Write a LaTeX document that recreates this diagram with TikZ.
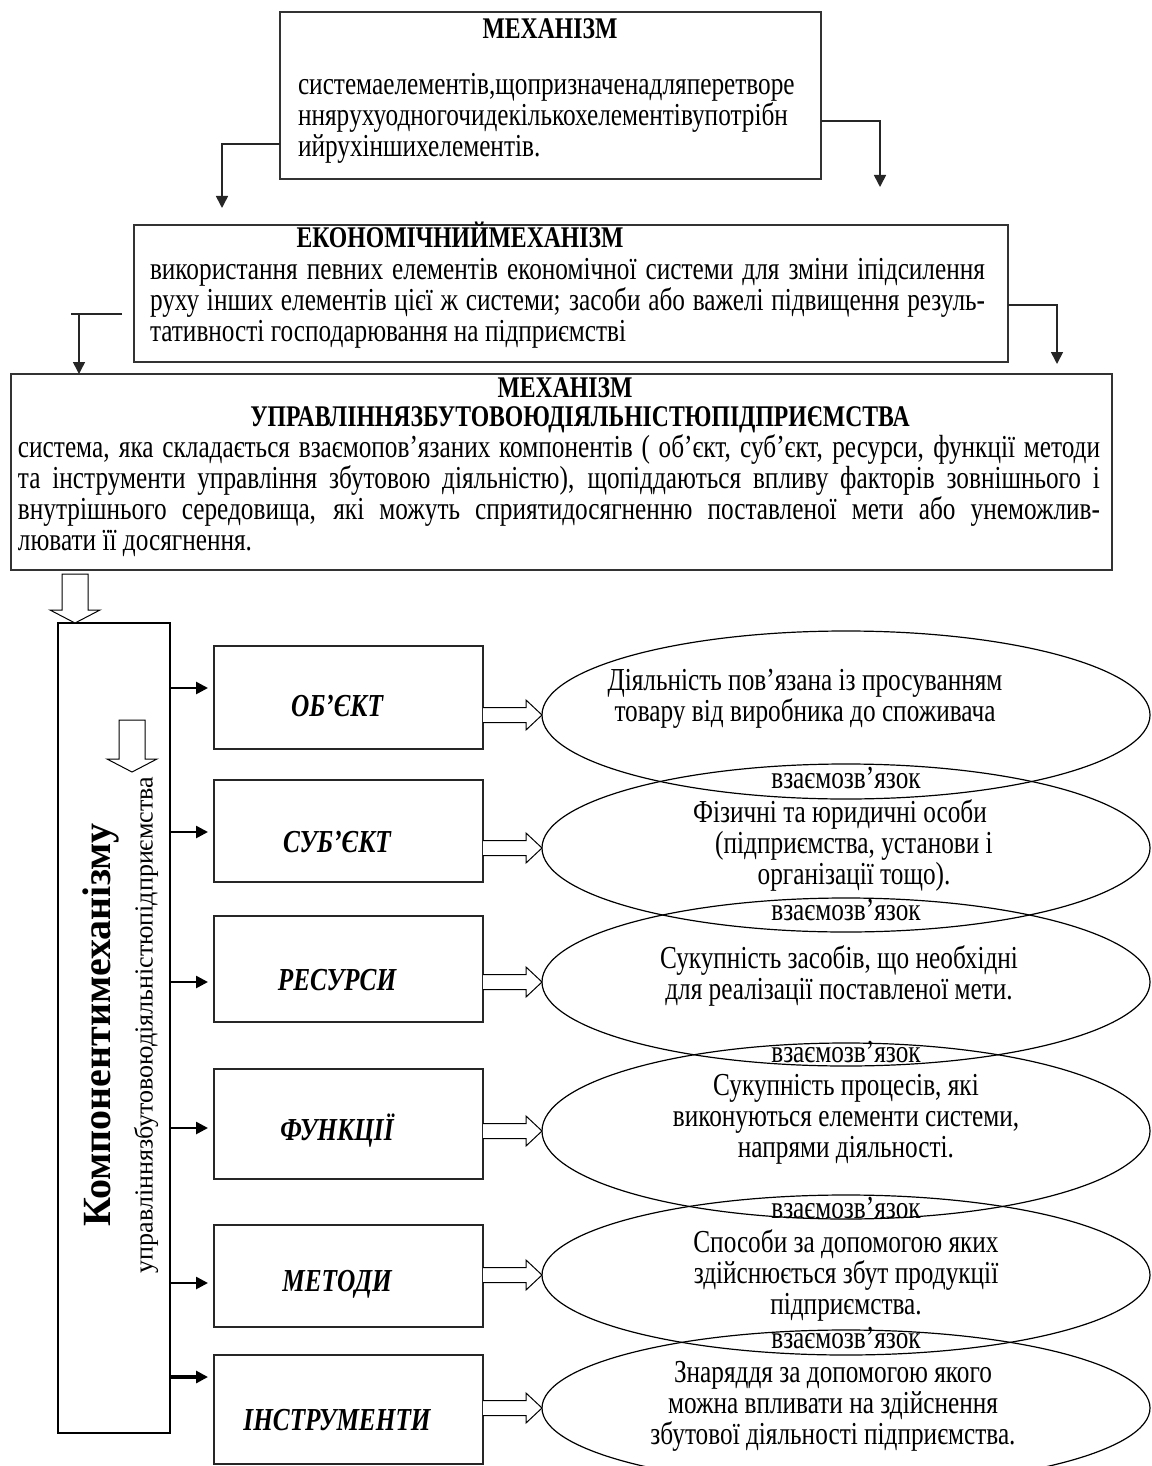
\documentclass[tikz,border=0pt]{standalone}
\usepackage{fontspec}
\setmainfont{Liberation Serif}[FakeStretch=0.79]
\newfontfamily\vertfont{Liberation Serif}
\usetikzlibrary{calc,arrows.meta,shapes.geometric}

% a line of text spread to the full width
\newcommand\fillline[2]{\makebox[#1][s]{#2}}

% hollow block arrow pointing down, from #1 to #2 (same x)
\newcommand\downblock[2]{%
  \draw[hollowarrow] let \p1=(#1), \p2=(#2) in
    (\x1-6.5pt,\y1) -- (\x1+6.5pt,\y1) -- (\x1+6.5pt,\y2+6.5pt) -- (\x1+12.5pt,\y2+6.5pt)
    -- (\x1,\y2) -- (\x1-12.5pt,\y2+6.5pt) -- (\x1-6.5pt,\y2+6.5pt) -- cycle;}
% hollow block arrow pointing right, from #1 to #2 (same y)
\newcommand\rightblock[2]{%
  \draw[hollowarrow] let \p1=(#1), \p2=(#2) in
    (\x1,\y1+3.75pt) -- (\x2-8pt,\y1+3.75pt) -- (\x2-8pt,\y1+7.5pt) -- (\x2,\y1)
    -- (\x2-8pt,\y1-7.5pt) -- (\x2-8pt,\y1-3.75pt) -- (\x1,\y1-3.75pt);}

\tikzset{
  every node/.style={inner sep=0pt, outer sep=0pt},
  framebox/.style={draw=black!80, line width=0.8pt, anchor=north west},
  compbox/.style={draw, line width=1.4pt, anchor=north west},
  itembox/.style={draw=black!85, line width=0.7pt, anchor=north west, minimum width=134.5pt},
  oval/.style={draw, ellipse, line width=0.6pt, minimum width=304pt},
  bodytext/.style={font=\fontsize{16}{15.5}\selectfont, align=left, anchor=north west},
  ovaltext/.style={font=\fontsize{16}{15.5}\selectfont, align=center},
  titletext/.style={font=\fontsize{15}{15.5}\selectfont\bfseries, anchor=base},
  itemlabel/.style={font=\fontsize{16}{15.5}\selectfont\bfseries\itshape, anchor=base},
  linklabel/.style={font=\fontsize{16}{15.5}\selectfont, anchor=base},
  conn/.style={draw=black!85, line width=0.8pt, -{Triangle[length=6pt,width=6pt]}},
  feed/.style={line width=1.3pt, -{Triangle[length=6pt,width=6pt]}, shorten >=3pt},
  hollowarrow/.style={draw, line width=0.5pt, fill=white},
}

\begin{document}
\begin{tikzpicture}[x=0.5pt, y=-0.5pt]
\useasboundingbox (0,0) rectangle (1151,1466);

% --- top box: mechanism
\node[framebox, minimum width=270.5pt, minimum height=83.5pt] (mech) at (280,12) {};
\node[titletext] (mechtitle) at (550,39) {МЕХАНІЗМ};
\node[bodytext] (mechtext) at (298,73) {системаелементів,щопризначенадляперетворе\\
нняpухуодногочидекількохелементівупотрібн\\
ийрухіншихелементів.};

% --- economic mechanism
\node[framebox, minimum width=437pt, minimum height=68.5pt] (econ) at (134,225) {};
\node[titletext] (econtitle) at (460,248) {ЕКОНОМІЧНИЙМЕХАНІЗМ};
\node[bodytext] (econtext) at (150,258) {%
\fillline{417.5pt}{використання певних елементів економічної системи для зміни іпідсилення}\\
\fillline{417.5pt}{руху інших елементів цієї ж системи; засоби або важелі підвищення резуль-}\\
тативності господарювання на підприємстві};

% --- sales management mechanism
\node[framebox, minimum width=550.5pt, minimum height=98pt] (mgmt) at (11,374) {};
\node[titletext] (mgmttitleA) at (565,397) {МЕХАНІЗМ};
\node[titletext] (mgmttitleB) at (580,426) {УПРАВЛІННЯЗБУТОВОЮДІЯЛЬНІСТЮПІДПРИЄМСТВА};
\node[bodytext] (mgmttext) at (18,435) {%
\fillline{541pt}{система, яка складається взаємопов’язаних компонентів ( об’єкт, суб’єкт, ресурси, функції методи}\\
\fillline{541pt}{та інструменти управління збутовою діяльністю), щопіддаються впливу факторів зовнішнього і}\\
\fillline{541pt}{внутрішнього середовища, які можуть сприятидосягненню поставленої мети або унеможлив-}\\
лювати її досягнення.};

% --- connectors between the upper boxes
\coordinate (a1) at (222,208);
\coordinate (a2) at (880,187);
\coordinate (a3) at (1057,364);
\draw[conn] ([yshift=17.5pt]mech.south west) -| (a1);
\draw[conn] ([yshift=29pt]mech.south east) -| (a2);
\draw[draw=black!85, line width=0.8pt] ($(econ.south west)+(-12,-48)$) -- ($(econ.south west)+(-63,-48)$);
\draw[conn] ($(econ.south west)+(-55,-48)$) -- ($(mgmt.north west)+(68,0)$);
\draw[conn] ([yshift=-5.75pt]econ.east) -| (a3);

% --- components column
\node[compbox, minimum width=56pt, minimum height=405pt] (comp) at (58,623) {};
\downblock{$(mgmt.south west)+(64,4)$}{$(comp.north west)+(17,0)$}
\downblock{$(comp.north west)+(74,97)$}{$(comp.north west)+(74,149)$}
\node[font=\vertfont\fontsize{20}{24}\selectfont\bfseries, rotate=90] (compA) at (101,1025) {Компонентимеханізму};
\node[font=\vertfont\fontsize{13}{15}\selectfont, rotate=90] (compB) at (146,1025) {управліннязбутовоюдіяльністюпідприємства};

% --- component boxes
\node[itembox, minimum height=51.5pt] (o1) at (214,646) {};
\node[itembox, minimum height=51pt]   (o2) at (214,780) {};
\node[itembox, minimum height=53pt]   (o3) at (214,916) {};
\node[itembox, minimum height=55pt]   (o4) at (214,1069) {};
\node[itembox, minimum height=51pt]   (o5) at (214,1225) {};
\node[itembox, minimum height=54.5pt] (o6) at (214,1355) {};

\node[itemlabel] (l1) at (337,716) {ОБ’ЄКТ};
\node[itemlabel] (l2) at (337,852) {СУБ’ЄКТ};
\node[itemlabel] (l3) at (337,990) {РЕСУРСИ};
\node[itemlabel] (l4) at (337,1140) {ФУНКЦІЇ};
\node[itemlabel] (l5) at (337,1291) {МЕТОДИ};
\node[itemlabel] (l6) at (337,1430) {ІНСТРУМЕНТИ};

% arrows from the column to the boxes
\coordinate (p1) at (214,688);
\coordinate (p2) at (214,832);
\coordinate (p3) at (214,982);
\coordinate (p4) at (214,1128);
\coordinate (p5) at (214,1283);
\coordinate (p6) at (214,1377);
\draw[feed] (comp.east |- p1) -- (o1.west |- p1);
\draw[feed] (comp.east |- p2) -- (o2.west |- p2);
\draw[feed] (comp.east |- p3) -- (o3.west |- p3);
\draw[feed] (comp.east |- p4) -- (o4.west |- p4);
\draw[feed] (comp.east |- p5) -- (o5.west |- p5);
\draw[feed, line width=2.3pt] (comp.east |- p6) -- (o6.west |- p6);

% --- descriptions
\begin{scope}
\clip (0,0) rectangle (1151,1466);
\node[oval, minimum height=84pt] (e1) at (846,715) {};
\node[oval, minimum height=84pt] (e2) at (846,848) {};
\node[oval, minimum height=84pt] (e3) at (846,982) {};
\node[oval, minimum height=88pt] (e4) at (846,1131) {};
\node[oval, minimum height=80pt] (e5) at (846,1275) {};
\node[oval, minimum height=78pt] (e6) at (846,1408) {};
\end{scope}

\rightblock{o1.east |- e1.west}{e1.west}
\rightblock{o2.east |- e2.west}{e2.west}
\rightblock{o3.east |- e3.west}{e3.west}
\rightblock{o4.east |- e4.west}{e4.west}
\rightblock{o5.east |- e5.west}{e5.west}
\rightblock{o6.east |- e6.west}{e6.west}

\node[ovaltext] (t1) at (805,699) {Діяльність пов’язана із просуванням\\товару від виробника до споживача};
\node[ovaltext] (t2) at (840,845) {Фізичні та юридичні особи\\\hspace*{14pt}(підприємства, установи і\\\hspace*{14pt}організації тощо).};
\node[ovaltext] (t3) at (839,976) {Сукупність засобів, що необхідні\\для реалізації поставленої мети.};
\node[ovaltext] (t4) at (846,1119) {Сукупність процесів, які\\виконуються елементи системи,\\напрями діяльності.};
\node[ovaltext] (t5) at (846,1275) {Способи за допомогою яких\\здійснюється збут продукції\\підприємства.};
\node[ovaltext] (t6) at (833,1406) {Знаряддя за допомогою якого\\можна впливати на здійснення\\збутової діяльності підприємства.};

\node[linklabel] (k1) at (846,788) {взаємозв’язок};
\node[linklabel] (k2) at (846,920) {взаємозв’язок};
\node[linklabel] (k3) at (846,1062) {взаємозв’язок};
\node[linklabel] (k4) at (846,1218) {взаємозв’язок};
\node[linklabel] (k5) at (846,1348) {взаємозв’язок};
\end{tikzpicture}
\end{document}
